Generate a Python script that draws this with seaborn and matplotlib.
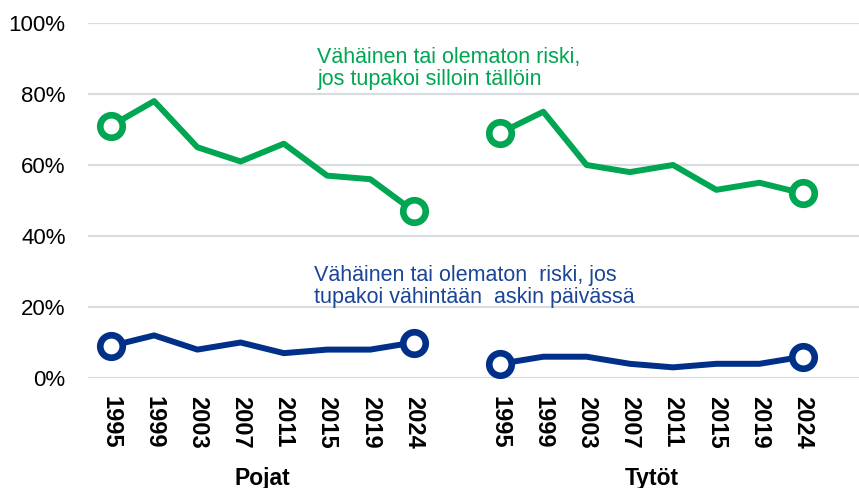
import numpy as np
import pandas as pd
import seaborn as sns
import matplotlib.pyplot as plt
from matplotlib.ticker import FuncFormatter

# data
years = ["1995", "1999", "2003", "2007", "2011", "2015", "2019", "2024"]
groups = ["Pojat", "Tytöt"]
boys_occasional = [71, 78, 65, 61, 66, 57, 56, 47]
girls_occasional = [69, 75, 60, 58, 60, 53, 55, 52]
boys_daily = [9, 12, 8, 10, 7, 8, 8, 10]
girls_daily = [4, 6, 6, 4, 3, 4, 4, 6]

label_occasional = "Vähäinen tai olematon riski,\njos tupakoi silloin tällöin"
label_daily = "Vähäinen tai olematon  riski, jos\ntupakoi vähintään  askin päivässä"

GREEN = "#00A651"
NAVY = "#003087"
NAVY_TEXT = "#1B4596"

# long table: boys on slots 0..7, girls on slots 9..16 (one empty slot between)
rows = []
series = {
    ("Pojat", "occasional"): boys_occasional,
    ("Tytöt", "occasional"): girls_occasional,
    ("Pojat", "daily"): boys_daily,
    ("Tytöt", "daily"): girls_daily,
}
for (grp, ser), vals in series.items():
    offset = 0 if grp == "Pojat" else len(years) + 1
    for i, (yr, v) in enumerate(zip(years, vals)):
        rows.append({"group": grp, "series": ser, "year": yr,
                     "pos": offset + i, "value": v,
                     "end": i in (0, len(years) - 1)})
df = pd.DataFrame(rows)

sns.set_theme(style="white")
plt.rcParams["font.family"] = ["Liberation Sans", "DejaVu Sans"]
plt.rcParams["text.color"] = "black"
plt.rcParams["xtick.color"] = "black"
plt.rcParams["ytick.color"] = "black"

fig = plt.figure(figsize=(8.59, 4.88), dpi=100)
ax = fig.add_axes([0.1024, 0.2254, 0.8976, 0.7275])

colors = {"occasional": GREEN, "daily": NAVY}
for (grp, ser), sub in df.groupby(["group", "series"]):
    sns.lineplot(data=sub, x="pos", y="value", color=colors[ser],
                 linewidth=4.3, ax=ax, legend=False, zorder=3)
    ends = sub[sub["end"]]
    sns.scatterplot(data=ends, x="pos", y="value", s=262, color="white",
                    edgecolor=colors[ser], linewidth=4.8, ax=ax,
                    legend=False, zorder=4)

ax.set_ylim(0, 100)
ax.set_xlim(-0.53, 17.3)
ax.set_yticks(np.arange(0, 101, 20))
ax.yaxis.set_major_formatter(FuncFormatter(lambda v, _: f"{v:.0f}%"))
ax.grid(axis="y", color="#D9DCE0", linewidth=1.6, zorder=0)
ax.grid(axis="x", visible=False)
sns.despine(ax=ax, left=True, bottom=True)

ax.set_xticks(df["pos"].unique())
ax.set_xticklabels(years + years, rotation=270, fontweight="bold", fontsize=17)
ax.tick_params(axis="x", length=0, pad=13)
ax.tick_params(axis="y", length=0, pad=16, labelsize=16)
ax.set_xlabel("")
ax.set_ylabel("")

for i, grp in enumerate(groups):
    center = i * (len(years) + 1) + (len(years) - 1) / 2
    ax.text(center, -0.30, grp, transform=ax.get_xaxis_transform(),
            ha="center", va="baseline", fontsize=16.5, fontweight="bold")

# va="baseline" anchors the last line of a multi-line text
ax.text(4.77, 82.5, label_occasional, color=GREEN, fontsize=15.5,
        ha="left", va="baseline", linespacing=1.05)
ax.text(4.7, 21.1, label_daily, color=NAVY_TEXT, fontsize=15.5,
        ha="left", va="baseline", linespacing=1.05)

fig.savefig("out.png", dpi=100)
